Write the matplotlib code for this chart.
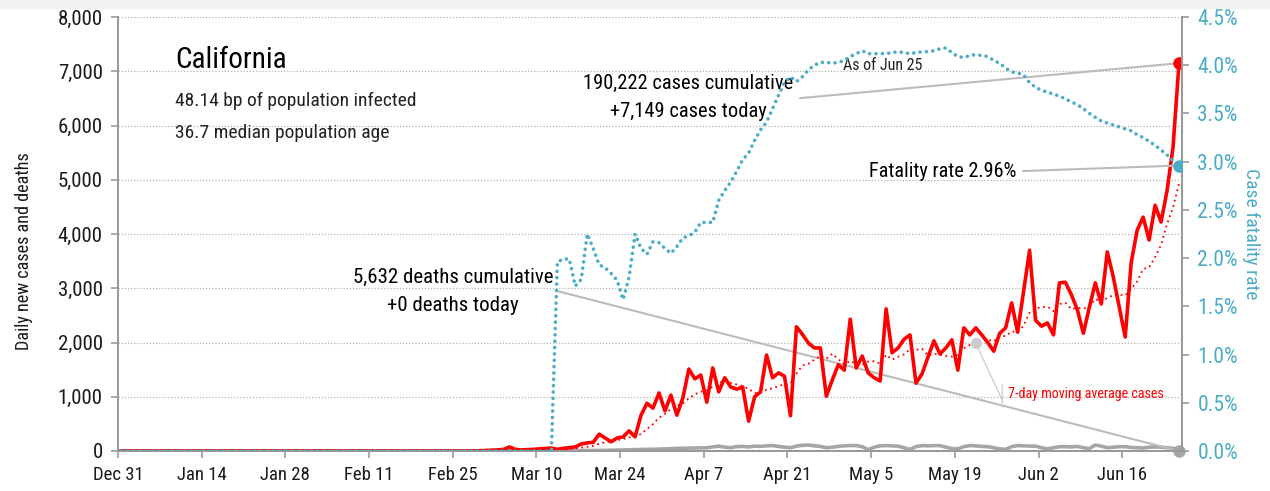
import matplotlib
matplotlib.use('Agg')
import matplotlib.pyplot as plt
from matplotlib.patches import Rectangle
from matplotlib.ticker import FuncFormatter, MultipleLocator
import pandas as pd

plt.rcParams['font.family'] = ['Roboto Condensed', 'DejaVu Sans']

RED = '#ff0000'
BLUE = '#4bacc6'
GREY = '#a6a6a6'
TEXT = '#1a1a1a'

# data, one value per day starting Dec 31
start_date = '2019-12-31'
daily_cases = [
    0, 0, 0, 0, 0, 0, 0, 0, 0, 0,
    0, 0, 0, 0, 0, 0, 0, 0, 0, 0,
    0, 0, 0, 0, 0, 0, 2, 0, 0, 0,
    0, 1, 0, 3, 0, 0, 0, 0, 0, 0,
    1, 0, 0, 0, 0, 0, 0, 0, 0, 0,
    0, 0, 1, 0, 0, 0, 0, 1, 0, 0,
    5, 10, 15, 20, 30, 75, 30, 20, 25, 30,
    40, 45, 55, 30, 50, 60, 75, 130, 150, 160,
    310, 240, 170, 240, 260, 370, 260, 660, 880, 790,
    1070, 740, 1030, 660, 980, 1510, 1330, 1400, 900, 1530,
    1090, 1350, 1180, 1140, 1180, 550, 1000, 1090, 1770, 1350,
    1440, 1380, 650, 2290, 2150, 1990, 1900, 1900, 1010, 1310,
    1590, 1490, 2430, 1530, 1750, 1440, 1350, 1290, 2620, 1810,
    1900, 2060, 2140, 1250, 1420, 1730, 2030, 1790, 1900, 2050,
    1490, 2270, 2140, 2270, 2140, 2000, 1840, 2170, 2270, 2730,
    2190, 2950, 3700, 2410, 2300, 2360, 2140, 3100, 3110, 2880,
    2600, 2170, 2650, 3100, 2710, 3670, 3210, 2650, 2100, 3470,
    4070, 4310, 3890, 4530, 4220, 4800, 5600, 7149,
]
daily_deaths = [
    0, 0, 0, 0, 0, 0, 0, 0, 0, 0,
    0, 0, 0, 0, 0, 0, 0, 0, 0, 0,
    0, 0, 0, 0, 0, 0, 0, 0, 0, 0,
    0, 0, 0, 0, 0, 0, 0, 0, 0, 0,
    0, 0, 0, 0, 0, 0, 0, 0, 0, 0,
    0, 0, 0, 0, 0, 0, 0, 0, 0, 0,
    0, 0, 0, 0, 0, 1, 0, 1, 1, 1,
    0, 2, 1, 2, 3, 4, 5, 6, 7, 8,
    10, 12, 15, 18, 20, 22, 25, 28, 30, 32,
    35, 40, 45, 48, 50, 52, 55, 55, 60, 75,
    90, 70, 60, 80, 85, 75, 90, 85, 95, 100,
    85, 70, 60, 90, 105, 110, 95, 85, 60, 70,
    85, 95, 100, 100, 80, 25, 70, 95, 100, 95,
    90, 60, 30, 80, 100, 95, 100, 100, 70, 45,
    40, 80, 100, 95, 85, 80, 60, 40, 30, 80,
    100, 95, 90, 90, 60, 40, 60, 80, 80, 75,
    85, 60, 45, 110, 90, 60, 70, 80, 80, 65,
    60, 55, 70, 75, 70, 60, 50, 0,
]
fatality_rate = [
    0, 0, 0, 0, 0, 0, 0, 0, 0, 0,
    0, 0, 0, 0, 0, 0, 0, 0, 0, 0,
    0, 0, 0, 0, 0, 0, 0, 0, 0, 0,
    0, 0, 0, 0, 0, 0, 0, 0, 0, 0,
    0, 0, 0, 0, 0, 0, 0, 0, 0, 0,
    0, 0, 0, 0, 0, 0, 0, 0, 0, 0,
    0, 0, 0, 0, 0, 0, 0, 0, 0, 0,
    0, 0, 0, 1.96, 1.99, 1.99, 1.71, 1.78, 2.25, 2.10,
    1.93, 1.90, 1.84, 1.77, 1.57, 1.80, 2.25, 2.10, 2.04, 2.17,
    2.16, 2.10, 2.05, 2.12, 2.21, 2.23, 2.27, 2.37, 2.37, 2.37,
    2.60, 2.70, 2.79, 2.90, 3.02, 3.09, 3.22, 3.33, 3.41, 3.55,
    3.69, 3.82, 3.88, 3.83, 3.88, 3.95, 4.00, 4.03, 4.03, 4.02,
    4.03, 4.05, 4.09, 4.12, 4.15, 4.12, 4.12, 4.12, 4.12, 4.13,
    4.14, 4.13, 4.12, 4.13, 4.14, 4.14, 4.15, 4.17, 4.18, 4.13,
    4.09, 4.08, 4.10, 4.11, 4.10, 4.09, 4.05, 4.02, 3.97, 3.93,
    3.92, 3.90, 3.82, 3.77, 3.74, 3.72, 3.70, 3.68, 3.65, 3.62,
    3.59, 3.55, 3.50, 3.46, 3.42, 3.40, 3.38, 3.36, 3.34, 3.32,
    3.28, 3.25, 3.21, 3.17, 3.12, 3.07, 3.01, 2.96,
]
state_name = 'California'
infected_bp = 48.14
median_age = 36.7
cumulative_cases = 190222
cumulative_deaths = 5632
ma_label_day = 143

days = pd.date_range(start_date, periods=len(daily_cases))
x = days + pd.Timedelta(hours=12)   # points sit mid-day
df = pd.DataFrame({'cases': daily_cases, 'deaths': daily_deaths, 'cfr': fatality_rate}, index=x)
df['ma7'] = df['cases'].rolling(7, min_periods=1).mean()

fig = plt.figure(figsize=(12.7, 4.91), dpi=100)
fig.patches.append(Rectangle((0, 1 - 8 / 491), 1, 8 / 491, transform=fig.transFigure,
                             color='#f2f2f2', zorder=0))
ax = fig.add_axes([118 / 1270, 40 / 491, 1064 / 1270, 434 / 491])
ax2 = ax.twinx()

# left axis: cases and deaths
ax.plot(df.index, df['deaths'], color=GREY, lw=2.6, solid_joinstyle='round', zorder=3)
ax.plot(df.index, df['cases'], color=RED, lw=2.6, solid_joinstyle='round', zorder=4)
ax.plot(df.index, df['ma7'], color=RED, lw=1.3, ls=(0, (1, 2)), zorder=4)
ax.plot(df.index[-1], df['cases'].iloc[-1], 'o', color=RED, ms=8, zorder=5)
ax.plot(df.index[-1], df['deaths'].iloc[-1], 'o', color=GREY, ms=8, zorder=5, clip_on=False)
ax.plot(df.index[ma_label_day], df['ma7'].iloc[ma_label_day], 'o', color='#cccccc', ms=7, zorder=5)

ax.set_ylim(0, 8000)
ax.set_xlim(days[0], days[-1] + pd.Timedelta(days=1))
ax.yaxis.set_major_locator(MultipleLocator(1000))
ax.yaxis.set_major_formatter(FuncFormatter(lambda v, p: f'{v:,.0f}'))
ax.grid(axis='y', color='#b3b3b3', ls=(0, (1, 1.5)), lw=0.9)
ax.set_axisbelow(True)
ax.set_ylabel('Daily new cases and deaths', fontsize=13.1, color=TEXT)
ax.yaxis.set_label_coords(-0.0798, 0.461)

ticks = days[::14]
ax.set_xticks(ticks)
ax.set_xticklabels([d.strftime('%b ') + str(d.day) for d in ticks])

# right axis: case fatality rate
ax2.plot(df.index, df['cfr'], color=BLUE, lw=2.6, ls=(0, (0.01, 1.75)),
         dash_capstyle='round', zorder=3)
ax2.plot(df.index[-1], df['cfr'].iloc[-1], 'o', color=BLUE, ms=8, zorder=5)
ax2.set_ylim(0, 4.5)
ax2.yaxis.set_major_locator(MultipleLocator(0.5))
ax2.yaxis.set_major_formatter(FuncFormatter(lambda v, p: f'{v:.1f}%'))
ax2.set_ylabel('Case fatality rate', fontsize=14, color=BLUE, rotation=-90, labelpad=16)

for a in (ax, ax2):
    a.spines['top'].set_visible(False)
    for s in ('left', 'right', 'bottom'):
        a.spines[s].set_color('#999999')
        a.spines[s].set_linewidth(1.4)
ax.tick_params(axis='both', colors='#999999', labelcolor=TEXT, labelsize=13.5, length=5, width=1.2)
ax.tick_params(axis='y', labelsize=15, pad=6)
ax.tick_params(axis='x', pad=6)
ax2.tick_params(axis='y', colors='#999999', labelcolor=BLUE, labelsize=15.5, length=5, width=1.2, pad=6)

# text block
ax.text(0.054, 0.90, state_name, transform=ax.transAxes, fontsize=21, va='center', color='black')
ax.text(0.054, 0.806, f'{infected_bp:.2f} bp of population infected', transform=ax.transAxes,
        fontsize=14, va='center', color='#222222')
ax.text(0.054, 0.733, f'{median_age:.1f} median population age', transform=ax.transAxes,
        fontsize=14, va='center', color='#222222')

# cases annotation
ax.text(0.536, 0.848, f'{cumulative_cases:,} cases cumulative', transform=ax.transAxes,
        fontsize=14.8, ha='center', va='center', color='black')
ax.text(0.536, 0.783, f'+{daily_cases[-1]:,} cases today', transform=ax.transAxes,
        fontsize=14.8, ha='center', va='center', color='black')
ax.annotate('', xy=(df.index[-1], df['cases'].iloc[-1]), xycoords='data',
            xytext=(0.641, 0.813), textcoords='axes fraction',
            arrowprops=dict(arrowstyle='-', color='#bbbbbb', lw=1.5, shrinkA=0, shrinkB=0))
ax.text(0.719, 0.889, 'As of ' + days[-1].strftime('%b ') + str(days[-1].day),
        transform=ax.transAxes, fontsize=11.5, ha='center', va='center', color='#222222')

# deaths annotation
ax.text(0.315, 0.401, f'{cumulative_deaths:,} deaths cumulative', transform=ax.transAxes,
        fontsize=15, ha='center', va='center', color='black')
ax.text(0.315, 0.336, f'+{daily_deaths[-1]:,} deaths today', transform=ax.transAxes,
        fontsize=15, ha='center', va='center', color='black')
ax.annotate('', xy=(df.index[-1], df['deaths'].iloc[-1]), xycoords='data',
            xytext=(0.4126, 0.3687), textcoords='axes fraction',
            arrowprops=dict(arrowstyle='-', color='#bbbbbb', lw=1.5, shrinkA=0, shrinkB=0))

# fatality rate annotation
ax2.text(0.844, 0.645, f'Fatality rate {fatality_rate[-1]:.2f}%', transform=ax2.transAxes,
         fontsize=14.6, ha='right', va='center', color='black')
ax2.annotate('', xy=(df.index[-1], df['cfr'].iloc[-1]), xycoords='data',
             xytext=(0.8506, 0.645), textcoords='axes fraction',
             arrowprops=dict(arrowstyle='-', color='#bbbbbb', lw=1.5, shrinkA=0, shrinkB=0))

# moving average label
ax.text(0.8365, 0.131, '7-day moving average cases', transform=ax.transAxes,
        fontsize=10.1, ha='left', va='center', color=RED)
ax.annotate('', xy=(df.index[ma_label_day], df['ma7'].iloc[ma_label_day]), xycoords='data',
            xytext=(0.831, 0.1175), textcoords='axes fraction',
            arrowprops=dict(arrowstyle='-', color='#cccccc', lw=0.9, shrinkA=0, shrinkB=4))
ax.annotate('', xy=(0.831, 0.152), xycoords='axes fraction',
            xytext=(0.831, 0.1), textcoords='axes fraction',
            arrowprops=dict(arrowstyle='-', color='#cccccc', lw=0.9, shrinkA=0, shrinkB=0))

fig.savefig('out.png', dpi=100)
